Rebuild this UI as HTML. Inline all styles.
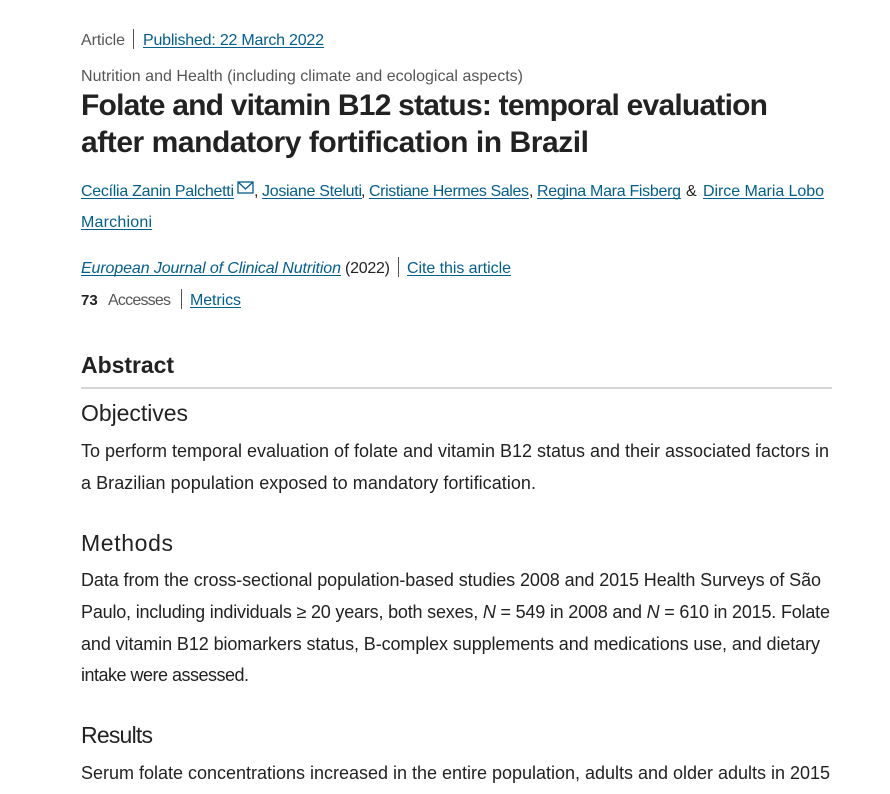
<!DOCTYPE html>
<html><head><meta charset="utf-8"><style>
html,body{margin:0;padding:0;background:#fff;width:890px;height:794px;overflow:hidden}
svg{display:block}
text{font-family:"Liberation Sans",sans-serif}
.g{fill:#555}.d{fill:#222}.l{fill:#025e8d}
</style></head><body>
<svg width="890" height="794" xmlns="http://www.w3.org/2000/svg">
<text x="81" y="45" font-size="16" class="g" textLength="44">Article</text>
<rect x="133" y="29" width="1" height="20" fill="#555"/>
<text x="143" y="45" font-size="16" class="l" textLength="181">Published: 22 March 2022</text>
<rect x="143" y="47" width="181" height="1" fill="#025e8d"/>
<text x="81" y="81" font-size="16" class="g" textLength="442">Nutrition and Health (including climate and ecological aspects)</text>
<text x="81" y="115" font-size="30" font-weight="bold" class="d" textLength="687">Folate and vitamin B12 status: temporal evaluation</text>
<text x="81" y="152" font-size="30" font-weight="bold" class="d" textLength="508">after mandatory fortification in Brazil</text>
<g font-size="16" class="l">
<text x="81" y="196" textLength="153">Cecília Zanin Palchetti</text>
<text x="262" y="196" textLength="100">Josiane Steluti</text>
<text x="369" y="196" textLength="160">Cristiane Hermes Sales</text>
<text x="537" y="196" textLength="144">Regina Mara Fisberg</text>
<text x="703" y="196" textLength="121">Dirce Maria Lobo</text>
<text x="81" y="227" textLength="71">Marchioni</text>
<text x="81" y="273" font-style="italic" textLength="260">European Journal of Clinical Nutrition</text>
<text x="407" y="273" textLength="104">Cite this article</text>
<text x="190" y="305" textLength="51">Metrics</text>
</g>
<g fill="#025e8d">
<rect x="81" y="198" width="153" height="1"/><rect x="262" y="198" width="100" height="1"/>
<rect x="369" y="198" width="160" height="1"/><rect x="537" y="198" width="144" height="1"/>
<rect x="703" y="198" width="121" height="1"/><rect x="81" y="229" width="71" height="1"/>
<rect x="81" y="275" width="260" height="1"/><rect x="407" y="275" width="104" height="1"/>
<rect x="190" y="307" width="51" height="1"/>
</g>
<rect x="238" y="182" width="15" height="11" fill="none" stroke="#025e8d" stroke-width="1.3"/>
<path d="M238 182 L245.5 189 L253 182" fill="none" stroke="#025e8d" stroke-width="1.3"/>
<text x="254" y="196" font-size="16" class="d">,</text>
<text x="361" y="196" font-size="16" class="d">,</text>
<text x="529" y="196" font-size="16" class="d">,</text>
<text x="686" y="196" font-size="16" class="d">&amp;</text>
<text x="345" y="273" font-size="16" class="d" textLength="45">(2022)</text>
<rect x="398" y="257" width="1" height="20" fill="#555"/>
<text x="81" y="305" font-size="15" font-weight="bold" class="d">73</text>
<text x="108" y="305" font-size="16" class="g" textLength="63">Accesses</text>
<rect x="181" y="289" width="1" height="20" fill="#555"/>
<text x="81" y="373" font-size="23" font-weight="bold" class="d" textLength="93">Abstract</text>
<rect x="81" y="387" width="751" height="2" fill="#d5d5d5"/>
<g font-size="23" class="d">
<text x="81" y="421" textLength="107">Objectives</text>
<text x="81" y="551" textLength="92">Methods</text>
<text x="81" y="743" textLength="72">Results</text>
</g>
<g font-size="18" class="d">
<text x="81" y="457" textLength="748">To perform temporal evaluation of folate and vitamin B12 status and their associated factors in</text>
<text x="81" y="489" textLength="455">a Brazilian population exposed to mandatory fortification.</text>
<text x="81" y="586" textLength="740">Data from the cross-sectional population-based studies 2008 and 2015 Health Surveys of São</text>
<text x="81" y="618" textLength="749">Paulo, including individuals ≥ 20 years, both sexes, <tspan font-style="italic">N</tspan> = 549 in 2008 and <tspan font-style="italic">N</tspan> = 610 in 2015. Folate</text>
<text x="81" y="650" textLength="739">and vitamin B12 biomarkers status, B-complex supplements and medications use, and dietary</text>
<text x="81" y="681" textLength="168">intake were assessed.</text>
<text x="81" y="779" textLength="749">Serum folate concentrations increased in the entire population, adults and older adults in 2015</text>
</g>
</svg>
</body></html>
